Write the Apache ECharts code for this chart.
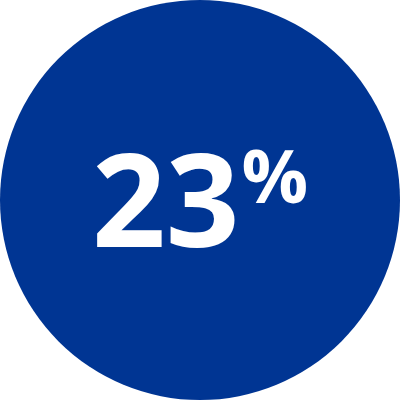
<!DOCTYPE html>
<html><head><meta charset="utf-8">
<script src="https://cdn.jsdelivr.net/npm/echarts@6/dist/echarts.min.js"></script>
<style>html,body{margin:0;padding:0;background:#fff}#c{width:400px;height:400px}</style>
</head><body><div id="c"></div>
<script>
const labels = ['Share'];
const values = [23];
const unit = '%';
const chart = echarts.init(document.getElementById('c'), null, {renderer: 'canvas'});
chart.setOption({
  animation: false,
  series: [{
    type: 'pie',
    radius: ['0%', '100%'],
    center: ['50%', '50%'],
    silent: true,
    itemStyle: {color: '#003593'},
    label: {
      show: true,
      position: 'center',
      offset: [0, 10],
      formatter: p => '{a|' + p.value + '}{b|' + unit + '}',
      rich: {
        a: {fontFamily: 'Open Sans', fontWeight: 'bold', fontSize: 129, color: '#fff', lineHeight: 130, verticalAlign: 'bottom'},
        b: {fontFamily: 'Open Sans', fontWeight: 'bold', fontSize: 74, color: '#fff', lineHeight: 116, verticalAlign: 'top', padding: [0,0,0,2]}
      }
    },
    labelLine: {show: false},
    data: labels.map((n, i) => ({name: n, value: values[i]}))
  }]
});
</script></body></html>
